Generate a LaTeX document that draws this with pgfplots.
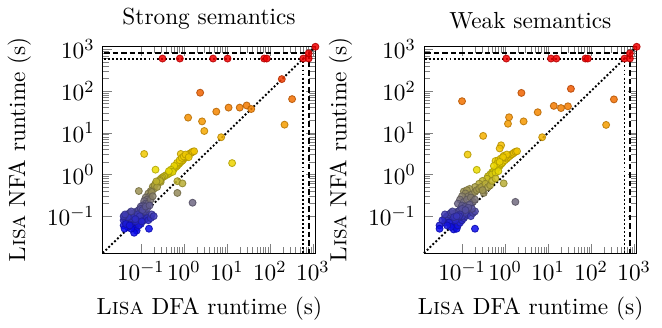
\documentclass[11pt,border=0pt]{standalone}
\usepackage{pgfplots}
\usepackage{pgfplotstable}
\pgfplotsset{compat=1.18}

\pgfplotstableread[row sep=\\]{
x y\\
0.32 600\\ 0.81 600\\ 4.8 600\\ 10.4 600\\ 74 600\\ 85 600\\ 600 600\\ 800 600\\ 800 800\\ 1150 1150\\ 190 193\\
2.4 91\\ 330 64\\ 5.7 32\\ 11 40\\ 20 40\\ 29 45\\ 37 37\\ 1.26 23\\ 2.66 18.7\\ 3.0 11\\ 220 15.6\\ 7.4 7.8\\
0.12 3.1\\ 0.85 3.1\\ 13.3 1.87\\ 0.22 1.3\\
0.38 0.95\\ 0.42 1.0\\ 0.45 1.05\\ 0.48 1.1\\ 0.5 1.2\\ 0.55 1.25\\ 0.58 1.35\\ 0.6 1.4\\ 0.65 1.5\\ 0.7 1.6\\ 0.72 1.7\\ 0.78 1.8\\ 0.8 1.9\\ 0.85 2.0\\ 0.9 2.1\\ 0.95 2.2\\ 1.0 2.4\\ 1.05 2.5\\ 1.1 2.6\\ 1.2 2.8\\ 1.3 3.0\\ 1.4 3.2\\ 1.5 3.3\\ 1.6 3.5\\ 1.74 3.6\\ 0.7 1.9\\ 0.8 2.2\\ 0.9 2.5\\ 1.0 2.7\\ 1.1 3.0\\ 0.6 1.6\\ 0.5 1.3\\ 1.3 2.6\\ 0.55 1.15\\ 0.45 1.2\\ 0.35 0.9\\ 0.32 0.85\\ 0.3 0.8\\ 0.28 0.75\\
0.71 0.69\\ 0.93 0.61\\ 0.09 0.40\\ 0.71 0.36\\ 1.6 0.21\\ 0.29 0.66\\ 0.19 0.51\\ 0.22 0.6\\ 0.25 0.65\\ 0.2 0.45\\ 0.17 0.4\\ 0.15 0.35\\ 0.16 0.3\\ 0.13 0.28\\ 0.14 0.25\\ 0.12 0.23\\ 0.18 0.38\\ 0.21 0.55\\ 0.24 0.5\\ 0.13 0.2\\ 0.11 0.18\\ 0.1 0.17\\ 0.12 0.15\\ 0.15 0.2\\ 0.17 0.25\\ 0.19 0.3\\ 0.28 0.7\\ 0.23 0.68\\
0.04 0.06\\ 0.045 0.07\\ 0.05 0.08\\ 0.055 0.09\\ 0.06 0.1\\ 0.065 0.11\\ 0.07 0.12\\ 0.08 0.13\\ 0.09 0.14\\ 0.1 0.15\\ 0.04 0.08\\ 0.042 0.09\\ 0.045 0.1\\ 0.05 0.11\\ 0.055 0.12\\ 0.06 0.07\\ 0.065 0.06\\ 0.07 0.055\\ 0.075 0.05\\ 0.08 0.045\\ 0.07 0.04\\ 0.06 0.05\\ 0.05 0.055\\ 0.042 0.05\\ 0.085 0.07\\ 0.09 0.08\\ 0.1 0.09\\ 0.11 0.1\\ 0.12 0.11\\ 0.13 0.12\\ 0.1 0.065\\ 0.12 0.08\\ 0.14 0.09\\ 0.155 0.05\\ 0.15 0.08\\ 0.17 0.09\\ 0.18 0.11\\ 0.2 0.1\\ 0.09 0.06\\ 0.075 0.075\\ 0.065 0.085\\ 0.08 0.1\\ 0.1 0.12\\ 0.12 0.13\\ 0.14 0.15\\ 0.045 0.065\\ 0.055 0.06\\ 0.06 0.09\\ 0.07 0.095\\ 0.085 0.11\\ 0.11 0.14\\ 0.13 0.17\\ 0.16 0.18\\ 0.095 0.1\\ 0.105 0.075\\ 0.075 0.085\\ 0.05 0.095\\ 0.04 0.1\\ 0.043 0.11\\ 0.06 0.13\\
}\strongdata

\pgfplotstableread[row sep=\\]{
x y\\
1.07 600\\ 11.7 600\\ 15.6 600\\ 74 600\\ 84 600\\ 600 600\\ 800 600\\ 800 800\\ 1150 1150\\
0.10 57\\ 2.4 90\\ 34 113\\ 340 63\\ 13.6 44\\ 20 39\\ 29 43\\ 5.75 31\\ 1.24 23.5\\ 1.17 16.4\\ 2.7 18.7\\ 224 15.4\\ 0.31 8.4\\ 7.3 7.8\\ 0.81 5.0\\ 0.75 4.2\\ 0.135 3.0\\
0.22 1.29\\ 0.5 1.13\\ 0.55 1.2\\ 0.6 1.3\\ 0.65 1.4\\ 0.7 1.5\\ 0.75 1.6\\ 0.8 1.75\\ 0.85 1.85\\ 0.9 2.0\\ 1.0 2.2\\ 1.1 2.4\\ 1.2 2.6\\ 1.3 2.8\\ 1.4 3.0\\ 1.5 3.1\\ 1.6 3.3\\ 1.75 3.5\\ 1.9 3.6\\ 0.6 2.1\\ 0.93 2.8\\ 0.7 2.2\\ 0.8 2.4\\ 0.65 1.8\\ 0.55 1.6\\ 1.0 2.6\\ 1.1 3.0\\ 0.9 2.6\\ 0.75 2.0\\ 0.45 1.0\\ 0.4 0.9\\ 0.5 1.0\\ 0.6 1.1\\ 0.7 1.2\\
0.93 0.61\\ 0.38 0.79\\ 0.11 0.39\\ 0.32 0.36\\ 1.74 0.22\\ 0.3 0.7\\ 0.25 0.6\\ 0.2 0.5\\ 0.15 0.45\\ 0.13 0.42\\ 0.12 0.35\\ 0.14 0.3\\ 0.17 0.33\\ 0.2 0.38\\ 0.22 0.42\\ 0.25 0.45\\ 0.28 0.5\\ 0.35 0.6\\ 0.1 0.3\\ 0.09 0.25\\ 0.11 0.22\\ 0.13 0.25\\ 0.16 0.28\\ 0.18 0.22\\ 0.2 0.25\\ 0.08 0.2\\ 0.1 0.18\\ 0.12 0.17\\ 0.15 0.19\\ 0.4 0.5\\ 0.45 0.55\\ 0.3 0.42\\ 0.5 0.7\\ 0.6 0.8\\
0.03 0.06\\ 0.03 0.05\\ 0.2 0.05\\ 0.064 0.048\\ 0.04 0.07\\ 0.045 0.08\\ 0.05 0.09\\ 0.055 0.1\\ 0.06 0.11\\ 0.07 0.12\\ 0.08 0.13\\ 0.09 0.14\\ 0.1 0.15\\ 0.04 0.09\\ 0.045 0.1\\ 0.05 0.11\\ 0.055 0.12\\ 0.06 0.13\\ 0.06 0.07\\ 0.065 0.06\\ 0.07 0.055\\ 0.075 0.05\\ 0.08 0.06\\ 0.09 0.07\\ 0.1 0.08\\ 0.11 0.09\\ 0.12 0.1\\ 0.13 0.11\\ 0.14 0.12\\ 0.15 0.13\\ 0.1 0.1\\ 0.12 0.12\\ 0.08 0.09\\ 0.07 0.08\\ 0.05 0.07\\ 0.055 0.055\\ 0.045 0.06\\ 0.16 0.1\\ 0.18 0.12\\ 0.2 0.13\\ 0.17 0.15\\ 0.14 0.16\\ 0.12 0.14\\ 0.09 0.11\\ 0.085 0.1\\ 0.065 0.095\\ 0.075 0.1\\ 0.035 0.08\\ 0.04 0.11\\
}\weakdata

\pgfplotsset{colormap={lisa}{rgb255(0cm)=(10,10,235) rgb255(1.4cm)=(235,220,0) rgb255(2.1cm)=(245,185,0) rgb255(2.6cm)=(245,150,0) rgb255(3.3cm)=(240,95,0) rgb255(4.08cm)=(240,0,0)}}

\begin{document}
\begin{tikzpicture}
\begin{axis}[
    scale only axis, width=100pt, height=97pt,
    xmode=log, ymode=log,
    xmin=0.013, xmax=1150, ymin=0.013, ymax=1150,
    xtick={0.1,1,10,100,1000}, ytick={0.1,1,10,100,1000},
    clip=false,
    xlabel={\textsc{Lisa} DFA runtime (s)},
    ylabel={\textsc{Lisa} NFA runtime (s)},
    title={Strong semantics}, title style={yshift=-1.5pt},
    colormap name=lisa,
    point meta min=-1.3, point meta max=2.78]
  \addplot[black, line width=0.9pt, densely dotted] coordinates {(0.013,0.013) (1150,1150)};
  \addplot[black, line width=0.9pt, densely dotted] coordinates {(0.014,600) (600,600) (600,0.013)};
  \addplot[black, line width=0.9pt, dash pattern=on 2.6pt off 1.4pt] coordinates {(0.014,800) (800,800) (800,0.013)};
  \addplot[scatter, only marks, mark=*, mark size=1.65pt, opacity=0.85,
    scatter/use mapped color={draw=mapped color!75!black, fill=mapped color},
    point meta={ln(\thisrow{y})/ln(10)}] table[x=x, y=y] {\strongdata};
\end{axis}
\begin{axis}[
    at={(151pt,0)},
    scale only axis, width=100pt, height=97pt,
    xmode=log, ymode=log,
    xmin=0.013, xmax=1150, ymin=0.013, ymax=1150,
    xtick={0.1,1,10,100,1000}, ytick={0.1,1,10,100,1000},
    clip=false,
    xlabel={\textsc{Lisa} DFA runtime (s)},
    ylabel={\textsc{Lisa} NFA runtime (s)},
    title={Weak semantics}, title style={yshift=-1.5pt},
    colormap name=lisa,
    point meta min=-1.3, point meta max=2.78]
  \addplot[black, line width=0.9pt, densely dotted] coordinates {(0.013,0.013) (1150,1150)};
  \addplot[black, line width=0.9pt, densely dotted] coordinates {(0.014,600) (600,600) (600,0.013)};
  \addplot[black, line width=0.9pt, dash pattern=on 2.6pt off 1.4pt] coordinates {(0.014,800) (800,800) (800,0.013)};
  \addplot[scatter, only marks, mark=*, mark size=1.65pt, opacity=0.85,
    scatter/use mapped color={draw=mapped color!75!black, fill=mapped color},
    point meta={ln(\thisrow{y})/ln(10)}] table[x=x, y=y] {\weakdata};
\end{axis}
\path (262.9pt,0pt);
\end{tikzpicture}
\end{document}
